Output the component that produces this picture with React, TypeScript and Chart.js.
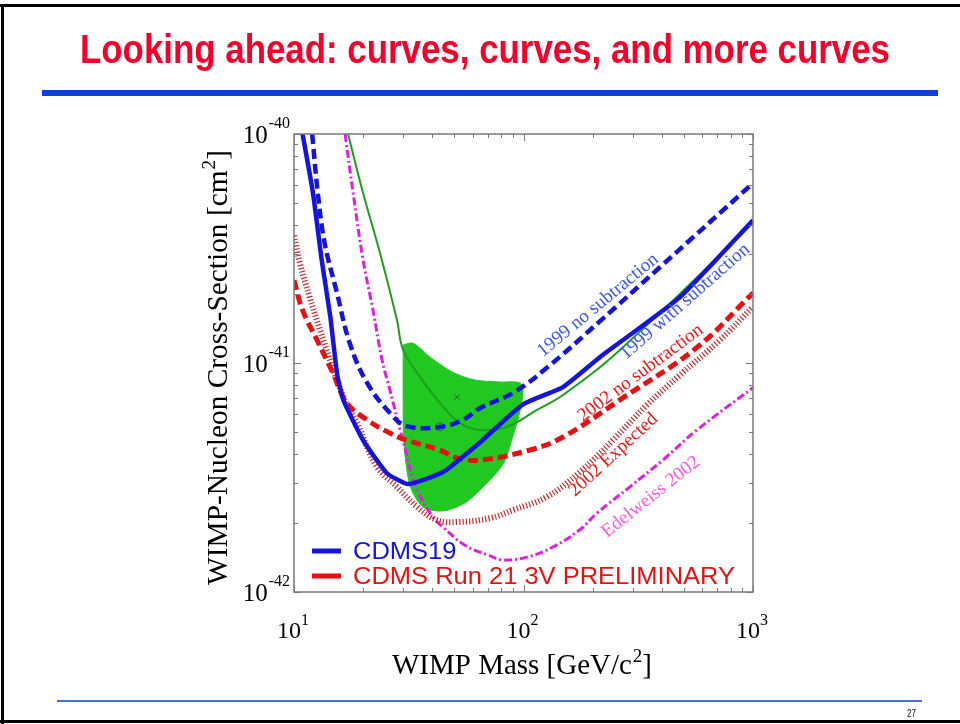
import React, { useEffect, useRef } from "react";
import { Chart, registerables } from "chart.js";

Chart.register(...registerables);

// ---------------- text ----------------
const titleText = "Looking ahead: curves, curves, and more curves";
const pageNumber = "27";
const xTitleMain = "WIMP Mass [GeV/c";
const xTitleSup = "2";
const xTitleEnd = "]";
const yTitleMain = "WIMP-Nucleon Cross-Section [cm";
const yTitleSup = "2";
const yTitleEnd = "]";

// ---------------- axes ----------------
const xMin = 10;
const xMax = 1000;
const yMin = 1e-42;
const yMax = 1e-40;
const xTickValues = [10, 100, 1000];
const xTickExponents = ["1", "2", "3"];
const yTickValues = [1e-42, 1e-41, 1e-40];
const yTickExponents = ["-42", "-41", "-40"];

// ---------------- series (mass in GeV/c^2, cross-section in cm^2) ----------------
const cdms19Mass = [10.9, 12.1, 13.2, 14.4, 15.4, 16.4, 20.0, 25.4, 31.4, 44.6, 64.6, 99.5, 148.6, 215, 481, 1000];
const cdms19Sigma = [1e-40, 5.52e-41, 2.82e-41, 1.59e-41, 9.0e-42, 6.9e-42, 4.6e-42, 3.3e-42, 2.96e-42, 3.34e-42, 4.5e-42, 6.6e-42, 7.85e-42, 1.06e-41, 1.94e-41, 4.2e-41];

const noSub1999Mass = [12.0, 12.7, 13.6, 15.4, 17.5, 20.8, 26.2, 31.0, 43.2, 54.5, 64.6, 90, 126, 215, 393, 1000];
const noSub1999Sigma = [1e-40, 5.52e-41, 3.34e-41, 2.02e-41, 1.22e-41, 8.2e-42, 6.05e-42, 5.3e-42, 5.26e-42, 5.64e-42, 6.35e-42, 7.4e-42, 9.5e-42, 1.52e-41, 2.62e-41, 6.1e-41];

const run21Mass = [10.0, 10.9, 12.6, 14.8, 17.0, 20.8, 26.2, 31.0, 43.2, 51.3, 64.6, 107, 148.6, 263, 570, 1000];
const run21Sigma = [2.3e-41, 1.7e-41, 1.26e-41, 9.0e-42, 6.7e-42, 5.64e-42, 4.94e-42, 4.6e-42, 4.17e-42, 3.85e-42, 3.77e-42, 4.17e-42, 4.75e-42, 6.9e-42, 1.17e-41, 2.02e-41];

const expected2002Mass = [10.0, 10.6, 11.7, 13.0, 16.4, 18.8, 23.0, 28.1, 34.4, 42.0, 51.3, 71.4, 90, 126, 176, 245, 345, 481, 718, 1000];
const expected2002Sigma = [3.6e-41, 2.74e-41, 1.94e-41, 1.39e-41, 7.1e-42, 5.47e-42, 3.52e-42, 2.88e-42, 2.35e-42, 2.06e-42, 2.02e-42, 2.1e-42, 2.28e-42, 2.6e-42, 3.34e-42, 4.6e-42, 6.56e-42, 8.87e-42, 1.26e-41, 1.76e-41];

const edelweissMass = [16.7, 18.1, 20.0, 22.1, 24.2, 26.2, 29.8, 34.4, 40.3, 44.6, 55.6, 70, 81.5, 103.5, 134, 176, 209, 291, 405, 570, 1000];
const edelweissSigma = [1e-40, 5.52e-41, 2.82e-41, 1.7e-41, 1.03e-41, 7.6e-42, 4.6e-42, 2.79e-42, 2.13e-42, 1.92e-42, 1.6e-42, 1.45e-42, 1.38e-42, 1.42e-42, 1.57e-42, 1.87e-42, 2.21e-42, 2.88e-42, 3.77e-42, 5.1e-42, 7.8e-42];

const withSub1999Mass = [17.2, 20.0, 23.7, 28.1, 29.9, 35.4, 43.2, 52.8, 64.6, 84.7, 114.5, 148.6, 263, 1000];
const withSub1999Sigma = [1e-40, 5.52e-41, 3.02e-41, 1.54e-41, 1.14e-41, 8.7e-42, 6.7e-42, 5.47e-42, 5.1e-42, 5.26e-42, 6.24e-42, 7.25e-42, 1.14e-41, 4.08e-41];

const damaRegionMass = [29.9, 33.0, 39.2, 49.3, 61.5, 79.1, 96.7, 99.5, 95.5, 90.5, 83.0, 77.0, 64.6, 55.6, 44.6, 36.5, 32.0, 30.1, 29.9, 29.9];
const damaRegionSigma = [1.2e-41, 1.22e-41, 1.06e-41, 9.1e-42, 8.43e-42, 8.26e-42, 8.18e-42, 7.47e-42, 5.9e-42, 4.9e-42, 3.75e-42, 3.35e-42, 2.79e-42, 2.45e-42, 2.26e-42, 2.35e-42, 2.93e-42, 4.6e-42, 6.9e-42, 1.2e-41];

const markerMass = [51.3, 43.2];
const markerSigma = [7.1e-42, 5.26e-42];

// ---------------- legend + annotations ----------------
const legendLabels = ["CDMS19", "CDMS Run 21 3V PRELIMINARY"];
const annotationTexts = ["1999 no subtraction", "1999 with subtraction", "2002 no subtraction", "2002 Expected", "Edelweiss 2002"];
const annotationMass = [121.6, 280, 181.5, 167.6, 231];
const annotationSigma = [1.06e-41, 1.03e-41, 5.52e-42, 2.6e-42, 1.72e-42];
const annotationAngles = [39.6, 41.3, 36.6, 42.6, 38.3];
const annotationColors = ["#3a55f0", "#3a55f0", "#ee1515", "#ee1515", "#ff5ad8"];

const toPoints = (xs: number[], ys: number[]) => xs.map((x, i) => ({ x, y: ys[i] }));

const SERIF = "'Liberation Serif', 'Times New Roman', serif";
const SANS = "'Liberation Sans', Arial, sans-serif";
const NARROW = "'Liberation Sans Narrow', 'Arial Narrow', 'Liberation Sans', sans-serif";

function fitText(ctx: CanvasRenderingContext2D, text: string, x: number, y: number, width: number) {
  const w = ctx.measureText(text).width;
  ctx.save();
  ctx.translate(x, y);
  ctx.scale(width / w, 1);
  ctx.fillText(text, 0, 0);
  ctx.restore();
}

function richWidth(ctx: CanvasRenderingContext2D, main: string, sup: string, end: string, size: number, supSize: number, family: string) {
  ctx.font = `${size}px ${family}`;
  const a = ctx.measureText(main).width;
  const c = ctx.measureText(end).width;
  ctx.font = `${supSize}px ${family}`;
  const b = ctx.measureText(sup).width;
  return a + b + c + 1;
}
function richDraw(ctx: CanvasRenderingContext2D, main: string, sup: string, end: string, size: number, supSize: number, family: string, supRise: number) {
  ctx.font = `${size}px ${family}`;
  ctx.fillText(main, 0, 0);
  let x = ctx.measureText(main).width + 1;
  ctx.font = `${supSize}px ${family}`;
  ctx.fillText(sup, x, -supRise);
  x += ctx.measureText(sup).width;
  ctx.font = `${size}px ${family}`;
  ctx.fillText(end, x, 0);
}

const decorPlugin = {
  id: "decor",
  beforeDraw(chart: any) {
    const ctx: CanvasRenderingContext2D = chart.ctx;
    ctx.save();
    ctx.fillStyle = "#ffffff";
    ctx.fillRect(0, 0, chart.width, chart.height);
    ctx.fillStyle = "#000000";
    ctx.fillRect(0, 4, 960, 3);
    ctx.fillRect(1, 4, 3, 720);
    ctx.fillRect(0, 720, 960, 3);
    ctx.fillStyle = "#f5002a";
    ctx.font = `bold 40px ${NARROW}`;
    ctx.textBaseline = "alphabetic";
    fitText(ctx, titleText, 80, 63, 810);
    ctx.fillStyle = "#0f3fe2";
    ctx.fillRect(42, 90, 896, 6);
    ctx.fillStyle = "#4470e0";
    ctx.fillRect(57, 700, 865, 2);
    ctx.fillStyle = "#111111";
    ctx.font = `11px ${NARROW}`;
    fitText(ctx, pageNumber, 907, 717, 9);
    ctx.restore();
  },
  afterDatasetsDraw(chart: any) {
    const ctx: CanvasRenderingContext2D = chart.ctx;
    const xs = chart.scales.x;
    const ys = chart.scales.y;
    const { left, right, top, bottom } = chart.chartArea;
    ctx.save();
    ctx.textBaseline = "alphabetic";
    ctx.textAlign = "left";
    annotationTexts.forEach((t, i) => {
      const px = xs.getPixelForValue(annotationMass[i]);
      const py = ys.getPixelForValue(annotationSigma[i]);
      ctx.save();
      ctx.translate(px, py);
      ctx.rotate((-annotationAngles[i] * Math.PI) / 180);
      ctx.fillStyle = annotationColors[i];
      ctx.font = `19px ${SERIF}`;
      ctx.fillText(t, 0, 0);
      ctx.restore();
    });

    ctx.strokeStyle = "#7a7a7a";
    ctx.lineWidth = 1.5;
    ctx.strokeRect(left, top, right - left, bottom - top);
    ctx.lineWidth = 1;
    for (let dec = 10; dec < xMax; dec *= 10) {
      for (let m = 1; m <= 10; m++) {
        const v = dec * m;
        if (v > xMax) continue;
        const px = Math.round(xs.getPixelForValue(v)) + 0.5;
        const len = m === 1 || m === 10 ? 7 : 4;
        ctx.beginPath();
        ctx.moveTo(px, bottom);
        ctx.lineTo(px, bottom - len);
        ctx.moveTo(px, top);
        ctx.lineTo(px, top + len);
        ctx.stroke();
      }
    }
    for (let dec = yMin; dec < yMax * 0.99; dec *= 10) {
      for (let m = 1; m <= 10; m++) {
        const v = dec * m;
        if (v > yMax * 1.001) continue;
        const py = Math.round(ys.getPixelForValue(v)) + 0.5;
        const len = m === 1 || m === 10 ? 7 : 4;
        ctx.beginPath();
        ctx.moveTo(left, py);
        ctx.lineTo(left + len, py);
        ctx.moveTo(right, py);
        ctx.lineTo(right - len, py);
        ctx.stroke();
      }
    }

    const legendColors = ["#1414dc", "#e81010"];
    const legendY = [551, 576];
    ctx.font = `24px ${SANS}`;
    const scaleX = 382 / ctx.measureText(legendLabels[1]).width;
    legendLabels.forEach((lab, i) => {
      ctx.strokeStyle = legendColors[i];
      ctx.lineWidth = 5;
      ctx.beginPath();
      ctx.moveTo(312, legendY[i]);
      ctx.lineTo(341, legendY[i]);
      ctx.stroke();
      ctx.fillStyle = legendColors[i];
      ctx.save();
      ctx.translate(353, legendY[i] + 8);
      ctx.scale(scaleX, 1);
      ctx.fillText(lab, 0, 0);
      ctx.restore();
    });

    ctx.fillStyle = "#000000";
    yTickValues.forEach((v, i) => {
      const py = ys.getPixelForValue(v);
      ctx.font = `16px ${SERIF}`;
      const ew = ctx.measureText(yTickExponents[i]).width;
      ctx.font = `25px ${SERIF}`;
      const bw = ctx.measureText("10").width;
      const xRight = left - 4;
      ctx.fillText("10", xRight - ew - 1 - bw, py + 9);
      ctx.font = `16px ${SERIF}`;
      ctx.fillText(yTickExponents[i], xRight - ew, py - 6);
    });
    xTickValues.forEach((v, i) => {
      const px = xs.getPixelForValue(v);
      ctx.font = `16px ${SERIF}`;
      const ew = ctx.measureText(xTickExponents[i]).width;
      ctx.font = `24px ${SERIF}`;
      const bw = ctx.measureText("10").width;
      const total = bw + ew;
      const x0 = px - 1 - total / 2;
      ctx.fillText("10", x0, 638);
      ctx.font = `16px ${SERIF}`;
      ctx.fillText(xTickExponents[i], x0 + bw, 625);
    });

    const xw = richWidth(ctx, xTitleMain, xTitleSup, xTitleEnd, 29, 19, SERIF);
    ctx.save();
    ctx.translate(392, 674);
    ctx.scale(260 / xw, 1);
    richDraw(ctx, xTitleMain, xTitleSup, xTitleEnd, 29, 19, SERIF, 12);
    ctx.restore();

    const yw = richWidth(ctx, yTitleMain, yTitleSup, yTitleEnd, 29, 19, SERIF);
    ctx.save();
    ctx.translate(227, 585);
    ctx.rotate(-Math.PI / 2);
    ctx.scale(435 / yw, 1);
    richDraw(ctx, yTitleMain, yTitleSup, yTitleEnd, 29, 19, SERIF, 12);
    ctx.restore();

    ctx.restore();
  },
};

export default function App() {
  const ref = useRef<HTMLCanvasElement | null>(null);
  useEffect(() => {
    if (!ref.current) return;
    const line = (extra: any) => ({
      showLine: true,
      pointRadius: 0,
      fill: false,
      clip: 0,
      tension: 0.4,
      ...extra,
    });
    const chart = new Chart(ref.current, {
      type: "scatter",
      data: {
        datasets: [
          line({ label: legendLabels[0], data: toPoints(cdms19Mass, cdms19Sigma), borderColor: "#1414dc", borderWidth: 4.5, tension: 0.15 }),
          line({ label: annotationTexts[0], data: toPoints(noSub1999Mass, noSub1999Sigma), borderColor: "#1414dc", borderWidth: 4.5, borderDash: [10, 5] }),
          line({ label: legendLabels[1], data: toPoints(run21Mass, run21Sigma), borderColor: "#e81010", borderWidth: 5, borderDash: [10, 5] }),
          line({ label: annotationTexts[3], data: toPoints(expected2002Mass, expected2002Sigma), borderColor: "#c42a2e", borderWidth: 6, borderDash: [1.2, 2.1] }),
          line({ label: annotationTexts[4], data: toPoints(edelweissMass, edelweissSigma), borderColor: "#e01ee0", borderWidth: 3, borderDash: [8, 3, 2, 3] }),
          {
            label: "markers",
            data: toPoints(markerMass, markerSigma),
            showLine: false,
            pointStyle: ["crossRot", "circle"],
            pointRadius: [4, 4],
            borderColor: "#2e6b2e",
            backgroundColor: "rgba(0,0,0,0)",
            borderWidth: 1,
            clip: 0,
          },
          line({ label: annotationTexts[1], data: toPoints(withSub1999Mass, withSub1999Sigma), borderColor: "#1d9e1d", borderWidth: 2 }),
          {
            label: "DAMA",
            data: toPoints(damaRegionMass, damaRegionSigma),
            showLine: true,
            pointRadius: 0,
            fill: "shape",
            backgroundColor: "#22c822",
            borderColor: "#22c822",
            borderWidth: 1,
            tension: 0.3,
            clip: 0,
          },
        ],
      },
      options: {
        animation: false,
        responsive: false,
        devicePixelRatio: 1,
        layout: { padding: { left: 294, top: 134, right: 207, bottom: 132 } },
        scales: {
          x: { type: "logarithmic", min: xMin, max: xMax, display: false },
          y: { type: "logarithmic", min: yMin, max: yMax, display: false },
        },
        plugins: { legend: { display: false }, tooltip: { enabled: false } },
      },
      plugins: [decorPlugin],
    } as any);
    return () => chart.destroy();
  }, []);
  return (
    <div style={{ position: "fixed", left: 0, top: 0, width: 960, height: 724, background: "#fff" }}>
      <canvas ref={ref} width={960} height={724} style={{ display: "block", width: 960, height: 724 }} />
    </div>
  );
}
